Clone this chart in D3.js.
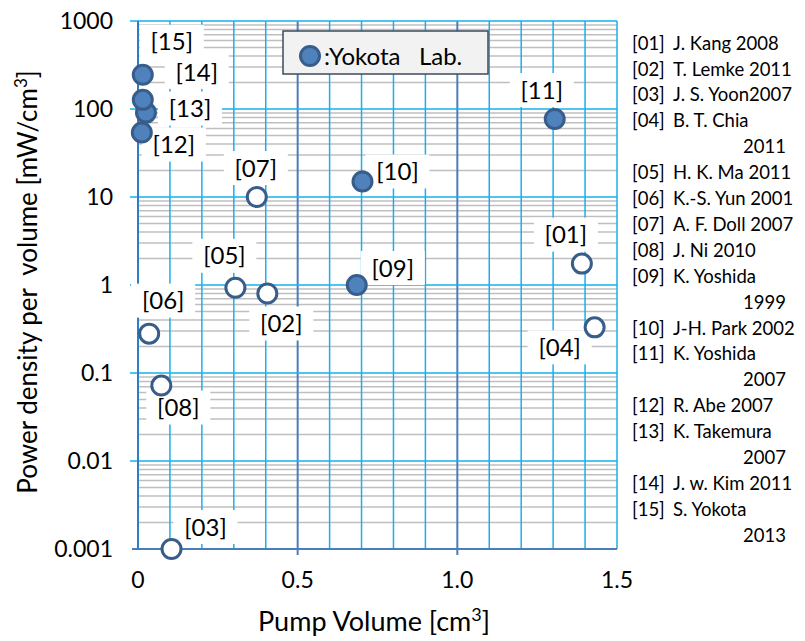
<!DOCTYPE html>
<html>
<head>
<meta charset="utf-8">
<script src="https://cdn.jsdelivr.net/npm/d3@7"></script>
<style>
  html, body { margin: 0; padding: 0; background: #fff; }
  svg { display: block; font-family: Lato, "Open Sans", sans-serif; }
</style>
</head>
<body>
<svg id="chart" width="805" height="641"></svg>
<script>
// ---------- data ----------
const refIds = ["01","02","03","04","05","06","07","08","09","10","11","12","13","14","15"];
const pumpVolume = [1.39, 0.405, 0.105, 1.43, 0.305, 0.035, 0.372, 0.073, 0.685, 0.703, 1.305, 0.012, 0.025, 0.015, 0.015];
const powerDensity = [1.75, 0.8, 0.001, 0.33, 0.93, 0.28, 10, 0.072, 1.0, 15, 77, 54, 91, 127, 245];
const yokotaLab = [false,false,false,false,false,false,false,false,true,true,true,true,true,true,true];
const xTicks = [0, 0.5, 1.0, 1.5];
const xTickLabels = ["0", "0.5", "1.0", "1.5"];
const yTicks = [0.001, 0.01, 0.1, 1, 10, 100, 1000];
const yTickLabels = ["0.001", "0.01", "0.1", "1", "10", "100", "1000"];
const references = [
  ["[01]", "J. Kang 2008"],
  ["[02]", "T. Lemke 2011"],
  ["[03]", "J. S. Yoon2007"],
  ["[04]", "B. T. Chia", "2011"],
  ["[05]", "H. K. Ma 2011"],
  ["[06]", "K.-S. Yun 2001"],
  ["[07]", "A. F. Doll 2007"],
  ["[08]", "J. Ni 2010"],
  ["[09]", "K. Yoshida", "1999"],
  ["[10]", "J-H. Park 2002"],
  ["[11]", "K. Yoshida", "2007"],
  ["[12]", "R. Abe 2007"],
  ["[13]", "K. Takemura", "2007"],
  ["[14]", "J. w. Kim 2011"],
  ["[15]", "S. Yokota", "2013"]
];
const legendText = ":Yokota\u00a0\u00a0 Lab.";

// ---------- layout (pixel offsets of data labels from their points) ----------
const labelOffsets = [[-16,-29],[14,30],[34,-22],[-35,20],[-11,-32],[14,-33],[-1,-29],[17,22],[36,-17],[35,-10],[-13,-29],[32,12],[44,-4],[54,-28],[29,-33]];

const svg = d3.select("#chart");
const L = 138, R = 617, T = 21, B = 549;
const x = d3.scaleLinear().domain([0, 1.5]).range([L, R]);
const y = d3.scaleLog().domain([0.001, 1000]).range([B, T]);

const lightBlue = "#17b0ee", darkBlue = "#4a7ebb", gray = "#bfbfbf";
const isHalf = d => Math.abs(d - 0.5) < 1e-9 || Math.abs(d - 1.0) < 1e-9;

// minor horizontal gridlines
const minor = [];
for (let e = -3; e < 3; e++) for (let m = 2; m <= 9; m++) minor.push(m * Math.pow(10, e));
svg.append("g").selectAll("line").data(minor).join("line")
  .attr("x1", L).attr("x2", R).attr("y1", d => y(d)).attr("y2", d => y(d))
  .attr("stroke", gray).attr("stroke-width", 1.5);

// vertical gridlines every 0.1
const vLines = d3.range(1, 15).map(i => i / 10);
svg.append("g").selectAll("line").data(vLines).join("line")
  .attr("x1", d => x(d)).attr("x2", d => x(d))
  .attr("y1", T).attr("y2", d => isHalf(d) ? B + 6 : B)
  .attr("stroke", d => isHalf(d) ? darkBlue : lightBlue)
  .attr("stroke-width", d => isHalf(d) ? 2 : 1.5);

// major horizontal gridlines (decades)
svg.append("g").selectAll("line").data(yTicks.slice(1)).join("line")
  .attr("x1", L - 8).attr("x2", R).attr("y1", d => y(d)).attr("y2", d => y(d))
  .attr("stroke", lightBlue).attr("stroke-width", 1.5);

// right border
svg.append("line").attr("x1", R).attr("x2", R).attr("y1", T).attr("y2", B)
  .attr("stroke", lightBlue).attr("stroke-width", 1.5);

// axes lines
svg.append("line").attr("x1", L - 6).attr("x2", R).attr("y1", B).attr("y2", B)
  .attr("stroke", darkBlue).attr("stroke-width", 2);
svg.append("line").attr("x1", L).attr("x2", L).attr("y1", T).attr("y2", B)
  .attr("stroke", "#2a80c8").attr("stroke-width", 2);

// data label backgrounds + text
const pts = refIds.map((id, i) => ({
  id, xv: pumpVolume[i], yv: powerDensity[i], yl: yokotaLab[i],
  lx: x(pumpVolume[i]) + labelOffsets[i][0], ly: y(powerDensity[i]) + labelOffsets[i][1]
}));
const lab = svg.append("g");
lab.selectAll("rect").data(pts).join("rect")
  .attr("x", d => d.lx - 32).attr("y", d => d.ly - 17).attr("width", 64).attr("height", 34)
  .attr("fill", "#fff");
lab.selectAll("text").data(pts).join("text")
  .attr("x", d => d.lx).attr("y", d => d.ly).attr("dy", "0.36em")
  .attr("text-anchor", "middle").attr("font-size", 24).attr("fill", "#000")
  .text(d => "[" + d.id + "]");

// points
svg.append("g").selectAll("circle").data(pts).join("circle")
  .attr("cx", d => x(d.xv)).attr("cy", d => y(d.yv)).attr("r", 9.5)
  .attr("fill", d => d.yl ? "#4f81bd" : "#fff")
  .attr("stroke", "#385d8a").attr("stroke-width", 3);

// tick labels
svg.append("g").selectAll("text").data(yTicks).join("text")
  .attr("x", 113).attr("y", d => y(d)).attr("dy", "0.36em")
  .attr("text-anchor", "end").attr("font-size", 23).attr("fill", "#000")
  .text((d, i) => yTickLabels[i]);
svg.append("g").selectAll("text").data(xTicks).join("text")
  .attr("x", d => x(d)).attr("y", 580).attr("dy", "0.36em")
  .attr("text-anchor", "middle").attr("font-size", 23).attr("fill", "#000")
  .text((d, i) => xTickLabels[i]);

// axis titles
const xt = svg.append("text").attr("x", 374).attr("y", 622).attr("dy", "0.35em")
  .attr("text-anchor", "middle").attr("font-size", 27).attr("fill", "#000");
xt.append("tspan").text("Pump Volume [cm");
xt.append("tspan").attr("font-size", 18).attr("dy", "-0.6em").text("3");
xt.append("tspan").attr("dy", "0.4em").text("]");

const yt = svg.append("text").attr("transform", "translate(37,282) rotate(-90)")
  .attr("text-anchor", "middle").attr("font-size", 26).attr("fill", "#000")
  .style("white-space", "pre");
yt.append("tspan").text("Power density per  volume [mW/cm");
yt.append("tspan").attr("font-size", 17).attr("dy", "-0.6em").text("3");
yt.append("tspan").attr("dy", "0.4em").text("]");

// legend
svg.append("rect").attr("x", 283).attr("y", 31).attr("width", 205).attr("height", 43)
  .attr("fill", "#f2f2f2").attr("stroke", "#3e4a5a").attr("stroke-width", 1.5);
svg.append("circle").attr("cx", 310).attr("cy", 56).attr("r", 9.5)
  .attr("fill", "#4f81bd").attr("stroke", "#385d8a").attr("stroke-width", 3);
svg.append("text").attr("x", 324).attr("y", 56).attr("dy", "0.36em")
  .attr("font-size", 24).attr("fill", "#000").text(legendText);

// reference list
const rows = [];
references.forEach(r => {
  rows.push({ tag: r[0], name: r[1] });
  if (r[2]) rows.push({ tag: "", name: "", cont: r[2] });
});
const rl = svg.append("g");
rows.forEach((r, i) => {
  const yy = 43 + i * 25.9;
  if (r.tag) {
    rl.append("text").attr("x", 632).attr("y", yy).attr("dy", "0.36em")
      .attr("font-size", 18.5).attr("fill", "#000").text(r.tag);
    rl.append("text").attr("x", 673).attr("y", yy).attr("dy", "0.36em")
      .attr("font-size", 18.5).attr("fill", "#000").text(r.name);
  } else {
    rl.append("text").attr("x", 786).attr("y", yy).attr("dy", "0.36em")
      .attr("text-anchor", "end").attr("font-size", 18.5).attr("fill", "#000").text(r.cont);
  }
});
</script>
</body>
</html>
